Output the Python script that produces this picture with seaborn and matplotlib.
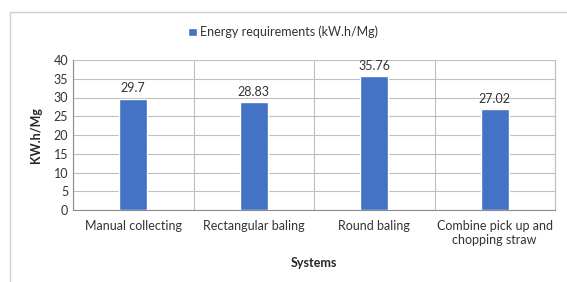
import pandas as pd
import numpy as np
import matplotlib.pyplot as plt
import matplotlib.patches as mpatches
import seaborn as sns

# Datos
systems = ["Manual collecting", "Rectangular baling", "Round baling",
           "Combine pick up and\nchopping straw"]
energy = [29.7, 28.83, 35.76, 27.02]
labels = ["29.7", "28.83", "35.76", "27.02"]
serie = "Energy requirements (kW.h/Mg)"

df = pd.DataFrame({"System": systems, "Energy": energy})

sns.set_style("white")
plt.rcParams["font.family"] = ["Lato", "DejaVu Sans"]

fig = plt.figure(figsize=(5.67, 2.82), dpi=100)
ax = fig.add_axes([73 / 567, 1 - 210 / 282, (555 - 73) / 567, 150 / 282])

sns.barplot(data=df, x="System", y="Energy", color="#4472C4", width=0.23,
            saturation=1, ax=ax, label=serie, zorder=3)
ax.bar_label(ax.containers[0], labels=labels, padding=3, fontsize=9, color="#333333")

ax.set_ylim(0, 40)
ax.set_yticks(range(0, 45, 5))
ax.set_xlim(-0.5, 3.5)
ax.set_xticks([-0.5, 0.5, 1.5, 2.5, 3.5], minor=True)
ax.grid(True, axis="y", color="#BFBFBF", linewidth=0.8, zorder=0)
ax.grid(True, which="minor", axis="x", color="#BFBFBF", linewidth=0.8, zorder=0)
ax.tick_params(axis="both", which="both", length=0, labelsize=9, colors="#333333")
ax.tick_params(axis="x", pad=7)
for s in ["left", "bottom"]:
    ax.spines[s].set_color("#8C8C8C")
    ax.spines[s].set_linewidth(0.8)
ax.spines["right"].set_color("#BFBFBF")
ax.spines["right"].set_linewidth(0.8)
ax.spines["top"].set_visible(False)

ax.set_ylabel("KW.h/Mg", fontsize=9, fontweight="bold", labelpad=8)
ax.set_xlabel("Systems", fontsize=9, fontweight="bold", labelpad=8)

leg = ax.legend(loc="center", bbox_to_anchor=(283 / 567, 1 - 32 / 282),
                bbox_transform=fig.transFigure, frameon=False, fontsize=9,
                handlelength=0.7, handleheight=0.7, handletextpad=0.3)
for t in leg.get_texts():
    t.set_color("#333333")

# Marco exterior
fig.patches.append(mpatches.Rectangle((10 / 567, -0.1), 1.0, 1 - 12 / 282 + 0.1,
                                      transform=fig.transFigure, fill=False,
                                      edgecolor="#D0D0D0", linewidth=1.0))

fig.savefig("out.png", dpi=100)
